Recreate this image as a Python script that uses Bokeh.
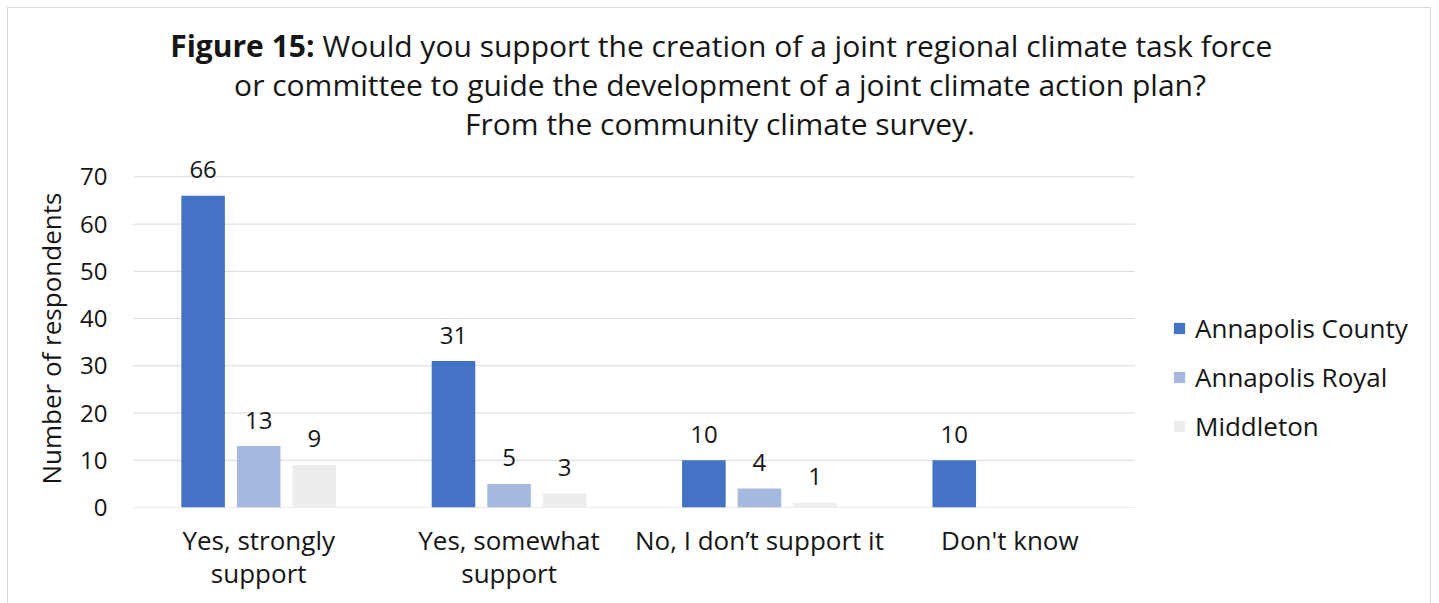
from bokeh.plotting import figure
from bokeh.models import (ColumnDataSource, Range1d, Legend, LegendItem,
                          Label, FixedTicker, Title)
from bokeh.core.properties import value
from bokeh.embed import file_html
from bokeh.resources import INLINE

# ---- data ----
categories = ["Yes, strongly support", "Yes, somewhat support",
              "No, I don\u2019t support it", "Don't know"]
category_labels = ["Yes, strongly\nsupport", "Yes, somewhat\nsupport",
                   "No, I don\u2019t support it", "Don't know"]
annapolis_county = [66, 31, 10, 10]
annapolis_royal = [13, 5, 4, 0]
middleton = [9, 3, 1, 0]
series_names = ["Annapolis County", "Annapolis Royal", "Middleton"]
y_ticks = [0, 10, 20, 30, 40, 50, 60, 70]
title_bold = "Figure 15:"
title_rest = "Would you support the creation of a joint regional climate task force"
title_line2 = "or committee to guide the development of a joint climate action plan?"
title_line3 = "From the community climate survey."
y_label = "Number of respondents"

# ---- style ----
FONT = "Open Sans"
TEXT = "#161616"
GRID = "#d9d9d9"
colors = ["#4472C4", "#A5B9DE", "#EDEDED"]
offsets = [-0.222, 0.0, 0.222]
bar_w = 0.174

OX = 8                      # page offset of the canvas (inside the border)
W, H = 1422, 595
FL_PAGE, FB_PAGE = 133, 505  # frame left / frame bottom in page px
FL, FB = FL_PAGE - OX, FB_PAGE - OX
PX_PER_CAT = 250.0
PX_PER_UNIT = 329.3 / 70.0
n = len(categories)
x_start = -0.5
x_end = x_start + (W - FL) / PX_PER_CAT
y_end = FB / PX_PER_UNIT

p = figure(x_range=Range1d(x_start, x_end), y_range=Range1d(0, y_end),
           width=W, height=H, output_backend="svg", toolbar_location=None,
           min_border_left=FL, min_border_right=0,
           min_border_top=0, min_border_bottom=H - FB)
p.styles = {"box-sizing": "content-box", "border": "1px solid #d9d9d9",
            "margin": "7px 0px 0px 7px"}
p.outline_line_color = None
p.background_fill_color = "white"
p.border_fill_color = "white"
p.xgrid.grid_line_color = None
p.ygrid.grid_line_color = None

# y axis
p.yaxis.ticker = FixedTicker(ticks=y_ticks)
p.yaxis.axis_line_color = None
p.yaxis.major_tick_line_color = None
p.yaxis.minor_tick_line_color = None
p.yaxis.major_tick_out = 0
p.yaxis.major_tick_in = 0
p.yaxis.major_label_standoff = 26
p.yaxis.major_label_text_font = FONT
p.yaxis.major_label_text_font_size = "24px"
p.yaxis.major_label_text_color = TEXT

# y axis title (aligned to the 0..70 span of the value axis)
p.add_layout(Title(text=y_label, align="left", offset=23, standoff=17,
                   text_font=FONT, text_font_size="26px",
                   text_font_style="normal", text_color=TEXT), "left")

# x axis (category positions 0..n-1)
p.xaxis.ticker = FixedTicker(ticks=list(range(n)))
p.xaxis.axis_line_color = None
p.xaxis.major_tick_line_color = None
p.xaxis.minor_tick_line_color = None
p.xaxis.major_tick_out = 0
p.xaxis.major_tick_in = 0
p.xaxis.major_label_standoff = 14
p.xaxis.major_label_text_font = FONT
p.xaxis.major_label_text_font_size = "26px"
p.xaxis.major_label_text_color = TEXT
p.xaxis.major_label_text_line_height = 0.94
p.xaxis.major_label_overrides = {i: lab for i, lab in enumerate(category_labels)}

# horizontal gridlines spanning the category area only
p.segment(x0=[x_start] * len(y_ticks), x1=[x_start + n] * len(y_ticks),
          y0=y_ticks, y1=y_ticks, line_color=GRID, line_width=1)

# bars + data labels
items = []
for name, vals, col, off in zip(series_names,
                                [annapolis_county, annapolis_royal, middleton],
                                colors, offsets):
    xs = [i + off for i in range(n)]
    src = ColumnDataSource(dict(x=xs, val=vals))
    r = p.vbar(x="x", top="val", width=bar_w, source=src,
               fill_color=col, line_color=None)
    items.append(LegendItem(label=name, renderers=[r]))
    lx = [x for x, v in zip(xs, vals) if v > 0]
    lv = [v for v in vals if v > 0]
    lsrc = ColumnDataSource(dict(x=lx, val=lv, txt=[str(v) for v in lv]))
    p.text(x="x", y="val", text="txt", source=lsrc,
           text_align="center", text_baseline="alphabetic", y_offset=-26,
           text_font=value(FONT), text_font_size="24px", text_color=TEXT)

legend = Legend(items=items, location=(1172 - FL_PAGE, 63), orientation="vertical",
                padding=0, margin=0, border_line_color=None,
                background_fill_alpha=0, glyph_width=14, glyph_height=14,
                label_standoff=9, spacing=13,
                label_text_font=FONT, label_text_font_size="26px",
                label_text_color=TEXT)
p.add_layout(legend, "center")

# title (frame-relative screen coordinates: x from frame left, y up from frame bottom)
TS = "30px"
cx = 719.5 - FL_PAGE
base = [43, 82, 121]   # page baselines (corrected for svg baseline shift)
p.add_layout(Label(x=314 - FL_PAGE, y=FB_PAGE - base[0], x_units="screen", y_units="screen",
                   text=title_bold, text_align="right", text_baseline="alphabetic",
                   text_font=FONT, text_font_style="bold", text_font_size=TS,
                   text_color=TEXT))
p.add_layout(Label(x=322 - FL_PAGE, y=FB_PAGE - base[0], x_units="screen", y_units="screen",
                   text=title_rest, text_align="left", text_baseline="alphabetic",
                   text_font=FONT, text_font_size=TS, text_color=TEXT))
p.add_layout(Label(x=cx, y=FB_PAGE - base[1], x_units="screen", y_units="screen",
                   text=title_line2, text_align="center", text_baseline="alphabetic",
                   text_font=FONT, text_font_size=TS, text_color=TEXT))
p.add_layout(Label(x=cx, y=FB_PAGE - base[2], x_units="screen", y_units="screen",
                   text=title_line3, text_align="center", text_baseline="alphabetic",
                   text_font=FONT, text_font_size=TS, text_color=TEXT))

open("out.html", "w").write(file_html(p, INLINE))
